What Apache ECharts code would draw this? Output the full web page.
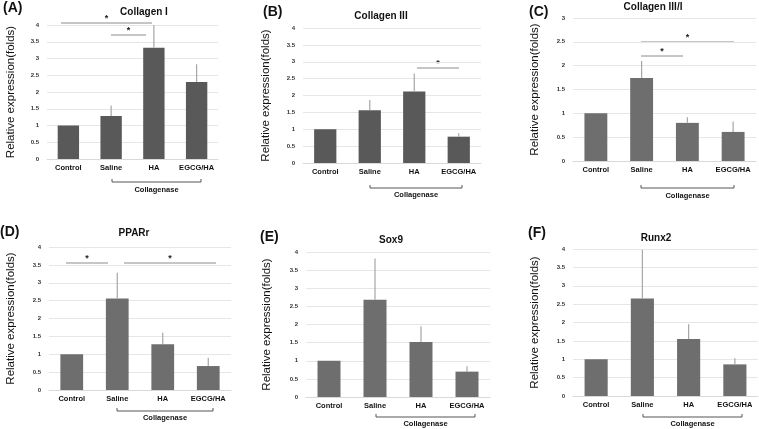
<!DOCTYPE html>
<html>
<head>
<meta charset="utf-8">
<script src="https://cdn.jsdelivr.net/npm/echarts@6/dist/echarts.min.js"></script>
<style>
    html, body { margin: 0; padding: 0; background: #fff; }
    #main { width: 759px; height: 429px; }
</style>
</head>
<body>
<div id="main"></div>
<script>
// 数据
const categories = ['Control', 'Saline', 'HA', 'EGCG/HA'];

const collagenI = [1, 1.28, 3.32, 2.3];
const collagenIErr = [0, 0.32, 0.68, 0.53];

const collagenIII = [1, 1.56, 2.12, 0.78];
const collagenIIIErr = [0, 0.31, 0.53, 0.1];

const collagenRatio = [1, 1.74, 0.8, 0.61];
const collagenRatioErr = [0, 0.36, 0.12, 0.22];

const ppar = [1, 2.56, 1.28, 0.67];
const pparErr = [0, 0.72, 0.32, 0.23];

const sox9 = [1, 2.68, 1.52, 0.7];
const sox9Err = [0, 1.14, 0.43, 0.15];

const runx2 = [1, 2.65, 1.55, 0.86];
const runx2Err = [0, 1.33, 0.4, 0.17];

const FONT = 'Liberation Sans, Arial, sans-serif';

// 每个小图的位置和样式
const panels = [
    { letter: '(A)', title: 'Collagen I', values: collagenI, err: collagenIErr, max: 4,
      grid: { left: 47, top: 25, width: 171, height: 134 }, color: '#595959',
      letterPos: [3, 8], titlePos: [144, 12], nameGap: 30,
      bracket: [112, 201, 182], labelY: 190,
      sig: [[61, 152, 23], [111, 146, 35]] },
    { letter: '(B)', title: 'Collagen III', values: collagenIII, err: collagenIIIErr, max: 4,
      grid: { left: 303, top: 28, width: 178, height: 135 }, color: '#595959',
      letterPos: [263, 12], titlePos: [381, 16], nameGap: 31,
      bracket: [370, 462, 188], labelY: 195,
      sig: [[417, 459, 68]] },
    { letter: '(C)', title: 'Collagen III/I', values: collagenRatio, err: collagenRatioErr, max: 3,
      grid: { left: 573, top: 18, width: 183, height: 143 }, color: '#6e6e6e',
      letterPos: [529, 12], titlePos: [653, 7], nameGap: 32,
      bracket: [641, 734, 188], labelY: 196,
      sig: [[641, 683, 56], [641, 734, 42]] },
    { letter: '(D)', title: 'PPARr', values: ppar, err: pparErr, max: 4,
      grid: { left: 49, top: 247, width: 182, height: 143 }, color: '#6e6e6e',
      letterPos: [0, 232], titlePos: [134, 233], nameGap: 32,
      bracket: [117, 213, 411], labelY: 418,
      sig: [[66, 108, 263], [124, 216, 263]] },
    { letter: '(E)', title: 'Sox9', values: sox9, err: sox9Err, max: 4,
      grid: { left: 306, top: 252, width: 184, height: 145 }, color: '#6e6e6e',
      letterPos: [260, 237], titlePos: [391, 240], nameGap: 33,
      bracket: [376, 475, 417], labelY: 424,
      sig: [] },
    { letter: '(F)', title: 'Runx2', values: runx2, err: runx2Err, max: 4,
      grid: { left: 573, top: 249, width: 185, height: 147 }, color: '#6e6e6e',
      letterPos: [528, 233], titlePos: [656, 238], nameGap: 32,
      bracket: [643, 742, 417], labelY: 424,
      sig: [] }
];

// 误差线
function renderErrorBar(params, api) {
    const base = api.coord([api.value(0), api.value(1)]);
    const top = api.coord([api.value(0), api.value(2)]);
    return {
        type: 'line',
        shape: { x1: base[0], y1: base[1], x2: top[0], y2: top[1] },
        style: { stroke: '#a6a6a6', lineWidth: 1.2 }
    };
}

function drawFigure() {
    const myChart = echarts.init(document.getElementById('main'));

    const grids = [], xAxes = [], yAxes = [], series = [], graphics = [];

    panels.forEach((p, i) => {
        grids.push(Object.assign({ containLabel: false }, p.grid));

        xAxes.push({
            type: 'category',
            gridIndex: i,
            data: categories,
            axisLine: { lineStyle: { color: '#d9d9d9' } },
            axisTick: { show: false },
            axisLabel: { fontSize: 7.5, fontWeight: 'bold', color: '#111', fontFamily: FONT, margin: 5, interval: 0 }
        });

        yAxes.push({
            type: 'value',
            gridIndex: i,
            min: 0,
            max: p.max,
            interval: 0.5,
            name: 'Relative expression(folds)',
            nameLocation: 'middle',
            nameGap: p.nameGap,
            nameRotate: 90,
            nameTextStyle: { fontSize: 11.5, color: '#111', fontFamily: FONT },
            axisLine: { show: false },
            axisTick: { show: false },
            axisLabel: { fontSize: 6, fontWeight: 'bold', color: '#333', fontFamily: FONT, margin: 8 },
            splitLine: { lineStyle: { color: '#e6e6e6', width: 1 } }
        });

        series.push({
            type: 'bar',
            xAxisIndex: i,
            yAxisIndex: i,
            data: p.values,
            barWidth: '50%',
            itemStyle: { color: p.color },
            silent: true
        });

        series.push({
            type: 'custom',
            xAxisIndex: i,
            yAxisIndex: i,
            renderItem: renderErrorBar,
            encode: { x: 0, y: [1, 2] },
            data: p.values.map((v, k) => [k, v, v + p.err[k]]),
            z: 3,
            silent: true
        });

        // 小图编号和标题
        graphics.push({
            type: 'text', x: p.letterPos[0], y: p.letterPos[1],
            style: { text: p.letter, fontSize: 14, fontWeight: 'bold', fill: '#111', fontFamily: FONT, textVerticalAlign: 'middle' }
        });
        graphics.push({
            type: 'text', x: p.titlePos[0], y: p.titlePos[1],
            style: { text: p.title, fontSize: 10, fontWeight: 'bold', fill: '#111', fontFamily: FONT, textAlign: 'center', textVerticalAlign: 'middle' }
        });

        // Collagenase 括号
        const [bx1, bx2, by] = p.bracket;
        graphics.push({
            type: 'polyline',
            shape: { points: [[bx1, by - 3], [bx1, by], [bx2, by], [bx2, by - 3]] },
            style: { stroke: '#555', lineWidth: 1, fill: null }
        });
        graphics.push({
            type: 'text', x: (bx1 + bx2) / 2, y: p.labelY,
            style: { text: 'Collagenase', fontSize: 7.5, fontWeight: 'bold', fill: '#111', fontFamily: FONT, textAlign: 'center', textVerticalAlign: 'middle' }
        });

        // 显著性标记
        p.sig.forEach(([sx1, sx2, sy]) => {
            graphics.push({
                type: 'line',
                shape: { x1: sx1, y1: sy, x2: sx2, y2: sy },
                style: { stroke: '#8c8c8c', lineWidth: 1 }
            });
            graphics.push({
                type: 'text', x: (sx1 + sx2) / 2, y: sy - 4,
                style: { text: '*', fontSize: 9, fontWeight: 'bold', fill: '#222', fontFamily: FONT, textAlign: 'center', textVerticalAlign: 'middle' }
            });
        });
    });

    const option = {
        animation: false,
        backgroundColor: '#fff',
        grid: grids,
        xAxis: xAxes,
        yAxis: yAxes,
        series: series,
        graphic: graphics
    };

    myChart.setOption(option);
}

window.onload = drawFigure;
</script>
</body>
</html>
